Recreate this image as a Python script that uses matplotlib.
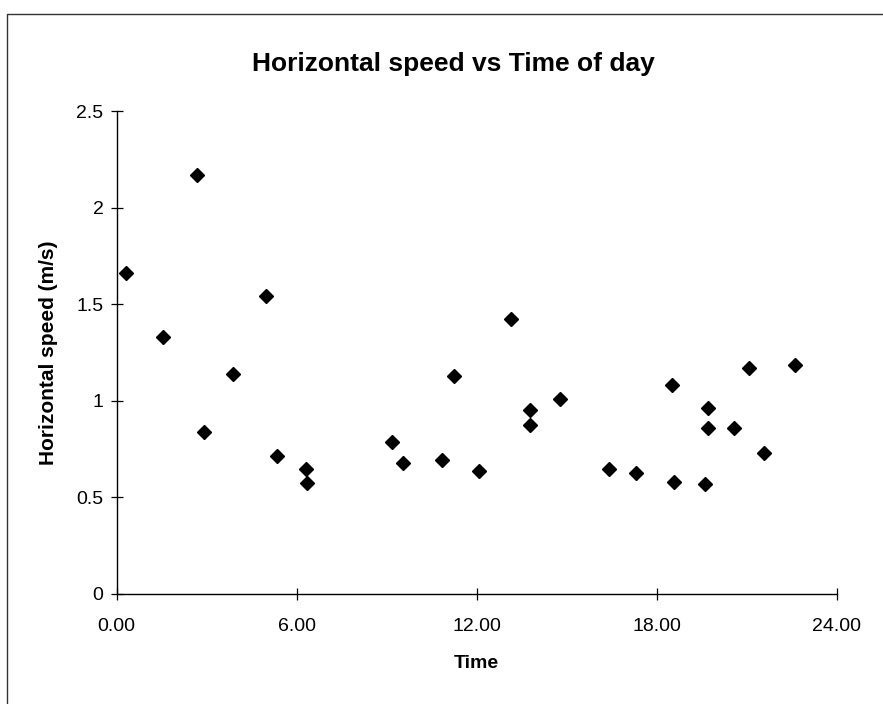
import matplotlib
matplotlib.use("Agg")
import matplotlib.pyplot as plt
from matplotlib.lines import Line2D

plt.rcParams['font.family'] = ['Liberation Sans', 'DejaVu Sans']

# time of day (hours) and horizontal speed (m/s)
time_h = [0.30, 1.55, 2.67, 2.92, 3.87, 4.98, 5.34, 6.31, 6.34, 9.19,
          9.55, 10.86, 11.24, 12.09, 13.14, 13.78, 13.78, 14.78, 16.41, 17.32,
          18.50, 18.59, 19.61, 19.71, 19.72, 20.58, 21.09, 21.59, 22.60]
speed = [1.664, 1.331, 2.169, 0.837, 1.138, 1.543, 0.712, 0.647, 0.576, 0.785,
         0.680, 0.693, 1.130, 0.636, 1.421, 0.952, 0.874, 1.007, 0.645, 0.628,
         1.081, 0.579, 0.569, 0.964, 0.857, 0.857, 1.171, 0.728, 1.185]

x_ticks = [0, 6, 12, 18, 24]
x_tick_labels = ['0.00', '6.00', '12.00', '18.00', '24.00']
y_ticks = [0, 0.5, 1, 1.5, 2, 2.5]
y_tick_labels = ['0', '0.5', '1', '1.5', '2', '2.5']

W, H = 883, 704
fig = plt.figure(figsize=(W / 100, H / 100), dpi=100)
ax = fig.add_axes([116.7 / W, 1 - 594 / H, 720 / W, 483 / H])

ax.plot(time_h, speed, linestyle='none', marker='D', markersize=7.2,
        color='black', clip_on=False)

ax.set_xlim(0, 24)
ax.set_ylim(0, 2.5)
ax.set_xticks(x_ticks)
ax.set_xticklabels(x_tick_labels)
ax.set_yticks(y_ticks)
ax.set_yticklabels(y_tick_labels)
ax.tick_params(axis='both', direction='inout', length=9, width=0.9,
               labelsize=14, color='black')
ax.tick_params(axis='x', pad=13)
ax.tick_params(axis='y', pad=5)

for side in ['top', 'right']:
    ax.spines[side].set_visible(False)
for side in ['left', 'bottom']:
    ax.spines[side].set_linewidth(1.0)

ax.set_xlabel('Time', fontsize=14, fontweight='bold', labelpad=14)
ax.set_ylabel('Horizontal speed (m/s)', fontsize=15, fontweight='bold', labelpad=13)

fig.text(453.5 / W, 1 - 64 / H, 'Horizontal speed vs Time of day',
         fontsize=19, fontweight='bold', ha='center', va='center')

# chart area border (left and top edges visible in the reference)
bx, by = 6.5 / W, 1 - 13.5 / H
fig.add_artist(Line2D([bx, bx, 1], [0, by, by], color='#333333', lw=1.0))

fig.savefig('out.png', dpi=100)
